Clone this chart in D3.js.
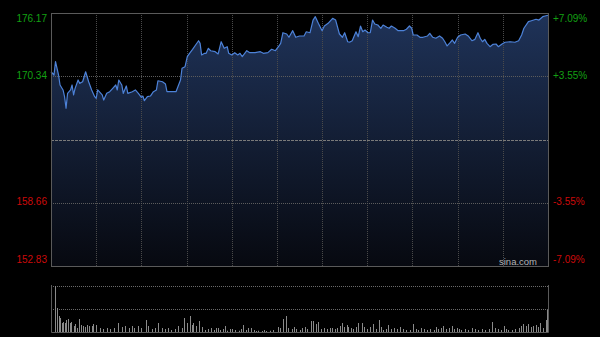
<!DOCTYPE html>
<html>
<head>
<meta charset="utf-8">
<script src="https://cdn.jsdelivr.net/npm/d3@7"></script>
<style>
  html, body { margin: 0; background: #000; }
  svg { display: block; }
</style>
</head>
<body>
<div id="chart"></div>
<script>
const prevClose = 164.50;
const priceTicks = [176.17, 170.34, 164.50, 158.66, 152.83];
const pctTicks = ["+7.09%", "+3.55%", "", "-3.55%", "-7.09%"];

// [minute from open, price]
const priceData = [
  [0,170.75],[2,170.45],[3,171.68],[5,170.45],[6,169.53],[8,169.07],[9,168.45],[10,167.38],
  [11,168.76],[13,169.07],[14,169.53],[15,168.61],[16,169.22],[18,169.99],[19,169.68],[21,169.83],
  [23,170.75],[25,169.83],[27,169.07],[29,168.45],[30,168.30],[31,169.07],[34,168.61],[35,168.14],
  [37,168.76],[39,168.91],[41,169.22],[43,169.53],[44,169.07],[45,169.99],[47,169.53],[48,168.76],
  [50,169.44],[51,168.76],[54,168.91],[56,169.07],[58,168.76],[60,168.39],[61,168.51],[62,168.08],
  [64,168.45],[66,168.51],[68,168.91],[70,169.07],[71,169.92],[74,169.83],[76,169.62],[77,168.91],
  [83,168.91],[86,169.99],[87,171.07],[89,171.22],[90.5,172.14],[92,172.45],[94,172.82],[96,173.22],
  [98,173.61],[99,173.37],[100,172.30],[102,172.45],[103,172.45],[104.5,172.91],[106,172.69],[109,172.60],
  [111,172.39],[113,173.52],[115,172.91],[117,173.06],[118,172.45],[120,172.30],[122,172.51],[124,172.30],
  [125.5,172.45],[127,172.14],[130,172.69],[132,172.51],[135.5,172.51],[139,172.60],[141,172.45],[144,172.51],
  [146.5,172.82],[149,172.69],[151,173.06],[152.5,173.37],[154,174.35],[156.5,174.23],[158,173.93],[160.5,174.54],
  [162.5,173.93],[165,174.05],[168,174.05],[169.5,174.44],[172,174.35],[174,175.52],[175.5,175.83],[177.5,175.22],
  [180,174.54],[181.5,174.97],[184,175.22],[187,175.68],[189,175.52],[191.5,174.23],[193.5,173.93],[195,174.35],
  [197,173.52],[198.5,173.49],[200,173.61],[202.5,174.44],[204,173.98],[205.5,174.97],[207,174.44],[208.5,174.60],
  [210.5,174.35],[212,174.35],[213.5,175.52],[215,175.16],[217,175.06],[219,174.76],[220.5,175.06],[223,174.85],
  [224.5,174.76],[226,174.97],[228.5,174.76],[230.5,174.54],[234,174.54],[236,174.67],[238,174.97],[239.5,174.76],
  [240.5,174.14],[243,174.14],[245,173.93],[247,173.93],[250,174.05],[251.5,174.30],[253.5,173.93],[255.5,173.84],
  [258,174.05],[260,173.84],[261.5,173.52],[263,173.13],[265,173.43],[266.5,173.68],[268,173.37],[270,173.93],
  [272,174.14],[275,174.23],[277,174.05],[279.5,173.61],[281.5,173.74],[283.5,174.35],[285,173.84],[286.5,173.52],
  [288,173.74],[289.5,173.37],[291.5,173.06],[293.5,173.28],[295.5,173.31],[297,173.06],[299.5,173.31],[301.5,173.47],
  [305,173.52],[308,173.47],[310.5,173.61],[312.5,174.14],[314,174.76],[317,175.37],[319,175.46],[322,175.59],
  [324,175.52],[326.5,175.83],[328,175.89],[330,175.96]
];

// [minute from open, volume (relative units)]
const volumeData = [
  [0,28],[2.5,46],[4,24],[5,16],[6,14],[7,9],[8,10],[9,9],[10,12],[11.5,13],[12.5,9],[13.5,10],[15,6],[16,8],[17,4],
  [18.5,13],[20,7],[21,6],[22.5,5],[24,7],[25.5,6],[27,6],[28,8],[30,7],[32.5,4],[34.5,3],[37,4],[39,3],[41.5,4],
  [44.5,9],[47,5],[49,6],[51.5,4],[53.5,6],[55,4],[58,6],[60,4],[63,12],[64.5,6],[67,3],[69,4],[71,9],[73.5,4],
  [75.5,3],[78,4],[80,2],[82.5,3],[84.5,6],[87,4],[88.5,14],[90,9],[92,16],[93.5,7],[94.5,9],[96.5,6],[98.5,11],
  [100,5],[102,2],[104.5,3],[106,4],[108,2],[109.5,4],[111,4],[112.5,2],[114,3],[115.5,6],[117,1.3],[119,3],
  [120.5,3],[122,2],[124.5,1.3],[126,3],[127.5,7],[129.5,2],[131,4],[132.5,4],[134.5,2],[136,1],[137.5,1.3],[140,1],
  [141.5,2],[143,1],[145.5,1.3],[147.5,2],[150.5,5],[152,4],[154,13],[156,16],[157.5,4],[160,3],[161.5,5],[163,3],
  [165,2],[166.5,4],[168.5,5],[170,3],[172.5,11],[174,11],[176,8],[177.5,10],[179,3],[181,4],[183,3],[185,4],
  [186.5,4],[188.5,3],[190,4],[192,6],[193.5,9],[194.5,5],[196.5,7],[197.5,5],[199,4],[200.5,3],[202.5,5],[204,9],
  [206.5,9],[207.5,5],[209.5,3],[212,5],[214,8],[216,3],[217.5,12],[219,5],[220.5,2],[222.5,3],[224,7],[225.5,3],
  [227.5,4],[229.5,3],[231.5,5],[234,3],[236,2],[238.5,2],[240.5,8],[242.5,3],[244,2],[246,4],[247.5,3],[249.5,2],
  [251.5,3],[254,2],[255.5,5],[257,3],[259,4],[260.5,6],[262.5,3],[264,4],[266,6],[267.5,3],[269.5,4],[271,3],
  [272.5,2],[275,3],[277,2],[279.5,4],[281.5,3],[283.5,2],[286,3],[288,2],[290.5,3],[293,10],[295,4],[297,3],
  [299,2],[300.5,6],[302,3],[303.5,2],[306,2],[308,3],[310.5,4],[312,6],[313.5,8],[315.5,6],[317,8],[318.5,5],
  [320,6],[322,7],[323.5,5],[325,9],[326.5,4],[328.5,12],[329.5,22]
];

const width = 600, height = 337;
const plotLeft = 51, plotRight = 548, plotTop = 13, plotBottom = 266;
const volTop = 286, volBottom = 332;
const font = "'Liberation Sans', Arial, sans-serif";

const svg = d3.select("#chart").append("svg")
  .attr("width", width)
  .attr("height", height)
  .style("background", "#000");

const x = d3.scaleLinear().domain([0, 330]).range([plotLeft, plotRight]);
const y = d3.scaleLinear().domain([152.83, 176.17]).range([plotBottom, plotTop]);
const yVol = d3.scaleLinear().domain([0, 46]).range([volBottom, volTop]);
const crisp = v => Math.round(v) + 0.5;

const grad = svg.append("defs").append("linearGradient")
  .attr("id", "areaGrad")
  .attr("gradientUnits", "userSpaceOnUse")
  .attr("x1", 0).attr("y1", plotTop).attr("x2", 0).attr("y2", plotBottom);
grad.append("stop").attr("offset", 0).attr("stop-color", "#1f3359");
grad.append("stop").attr("offset", 1).attr("stop-color", "#070910");

// area under price line
svg.append("path")
  .datum(priceData)
  .attr("fill", "url(#areaGrad)")
  .attr("d", d3.area().x(d => x(d[0])).y0(plotBottom).y1(d => y(d[1])));

// vertical grid, every 30 minutes
svg.append("g")
  .selectAll("line")
  .data(d3.range(30, 330, 30))
  .join("line")
  .attr("x1", d => crisp(x(d))).attr("x2", d => crisp(x(d)))
  .attr("y1", plotTop).attr("y2", plotBottom)
  .attr("stroke", "#4a4a4a")
  .attr("stroke-dasharray", "1,1");

// horizontal grid
svg.append("g")
  .selectAll("line")
  .data(priceTicks.slice(1, -1))
  .join("line")
  .attr("x1", plotLeft).attr("x2", plotRight)
  .attr("y1", d => crisp(y(d))).attr("y2", d => crisp(y(d)))
  .attr("stroke", d => d === prevClose ? "#7a7a7a" : "#5c5c5c")
  .attr("stroke-dasharray", d => d === prevClose ? "3,1" : "1,1");

// price line
svg.append("path")
  .datum(priceData)
  .attr("fill", "none")
  .attr("stroke", "#4d82d8")
  .attr("stroke-width", 1.2)
  .attr("stroke-linejoin", "round")
  .attr("d", d3.line().x(d => x(d[0])).y(d => y(d[1])));

// frame
svg.append("rect")
  .attr("x", plotLeft + 0.5).attr("y", plotTop + 0.5)
  .attr("width", plotRight - plotLeft).attr("height", plotBottom - plotTop)
  .attr("fill", "none")
  .attr("stroke", "#5a5a5a");

// axis labels
const labelY = (d, i) => i === 0 ? y(d) + 6 : i === priceTicks.length - 1 ? y(d) - 6 : y(d);
const labelColor = d => d > prevClose ? "#13a013" : "#cc0a0a";

svg.append("g")
  .selectAll("text")
  .data(priceTicks)
  .join("text")
  .attr("x", plotLeft - 4)
  .attr("y", labelY)
  .attr("text-anchor", "end")
  .attr("dominant-baseline", "middle")
  .attr("font-family", font)
  .attr("font-size", "10px")
  .attr("fill", labelColor)
  .text(d => d === prevClose ? "" : d.toFixed(2));

svg.append("g")
  .selectAll("text")
  .data(priceTicks)
  .join("text")
  .attr("x", plotRight + 5)
  .attr("y", labelY)
  .attr("dominant-baseline", "middle")
  .attr("font-family", font)
  .attr("font-size", "10px")
  .attr("fill", labelColor)
  .text((d, i) => pctTicks[i]);

svg.append("text")
  .attr("x", 537)
  .attr("y", 262)
  .attr("text-anchor", "end")
  .attr("dominant-baseline", "middle")
  .attr("font-family", font)
  .attr("font-size", "9.5px")
  .attr("fill", "#b5b5b5")
  .text("sina.com");

// volume panel
svg.append("g")
  .selectAll("line")
  .data([volTop, (volTop + volBottom) / 2])
  .join("line")
  .attr("x1", plotLeft).attr("x2", plotRight)
  .attr("y1", d => crisp(d)).attr("y2", d => crisp(d))
  .attr("stroke", "#6a6a6a")
  .attr("stroke-dasharray", "1,1");

svg.append("g")
  .selectAll("rect")
  .data(volumeData)
  .join("rect")
  .attr("x", d => Math.round(x(d[0])))
  .attr("y", d => yVol(d[1]))
  .attr("width", 1)
  .attr("height", d => volBottom - yVol(d[1]))
  .attr("fill", "#8a8a8a");

svg.append("path")
  .attr("d", `M${plotLeft + 0.5},${volTop - 1}V${volBottom + 0.5}H${plotRight + 0.5}V${volTop - 1}`)
  .attr("fill", "none")
  .attr("stroke", "#5a5a5a");
</script>
</body>
</html>
